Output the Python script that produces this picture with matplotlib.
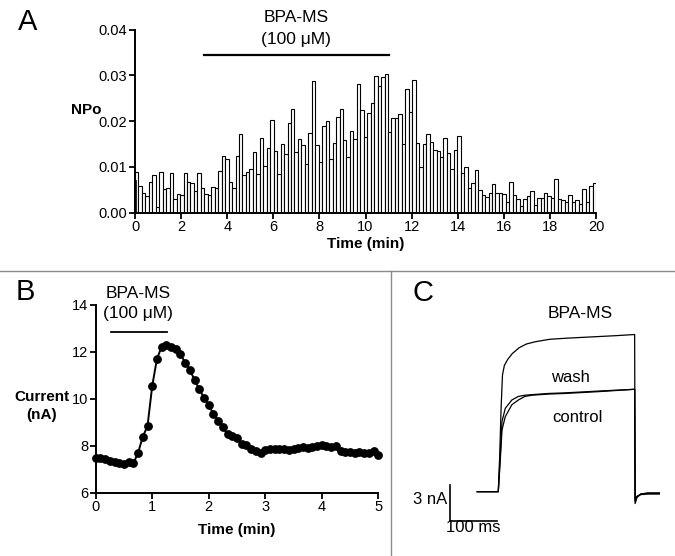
import matplotlib
matplotlib.use("Agg")
import matplotlib.pyplot as plt
import numpy as np
from matplotlib.lines import Line2D

plt.rcParams['font.family'] = ['Liberation Sans', 'DejaVu Sans']

# ---------------- Panel A data (NPo, ~9 s bins over 20 min) ----------------
npo_first = 0.0072  # filled bar at t = 0
npo_values = [
    0.0089, 0.0059, 0.0044, 0.0036, 0.0067, 0.0082, 0.0012, 0.0089, 0.0052, 0.0055, 0.0086, 0.0030, 0.0041,
    0.0038, 0.0087, 0.0067, 0.0064, 0.0048, 0.0086, 0.0053, 0.0041, 0.0038, 0.0057, 0.0053, 0.0092, 0.0125,
    0.0118, 0.0067, 0.0053, 0.0123, 0.0172, 0.0082, 0.0088, 0.0096, 0.0132, 0.0085, 0.0163, 0.0101, 0.0142,
    0.0202, 0.0135, 0.0085, 0.0150, 0.0128, 0.0197, 0.0227, 0.0132, 0.0162, 0.0147, 0.0106, 0.0174, 0.0287,
    0.0148,
    0.0110, 0.0190, 0.0200, 0.0117, 0.0153, 0.0209, 0.0227, 0.0158, 0.0122, 0.0178, 0.0162, 0.0282, 0.0224,
    0.0165, 0.0217, 0.0240, 0.0298, 0.0276, 0.0296, 0.0303, 0.0177, 0.0208, 0.0206, 0.0215, 0.0151, 0.0270,
    0.0220, 0.0290,
    0.0152, 0.0099, 0.0150, 0.0173, 0.0154, 0.0136, 0.0134, 0.0122, 0.0164, 0.0130, 0.0096, 0.0136, 0.0168,
    0.0087, 0.0100, 0.0053, 0.0064, 0.0093, 0.0050, 0.0039, 0.0034, 0.0044, 0.0063, 0.0044, 0.0042, 0.0040,
    0.0024,
    0.0068, 0.0038, 0.0031, 0.0014, 0.0031, 0.0036, 0.0048, 0.0017, 0.0033, 0.0033, 0.0044, 0.0037, 0.0032,
    0.0074, 0.0031, 0.0028, 0.0023, 0.0038, 0.0023, 0.0027, 0.0019, 0.0051, 0.0023, 0.0058, 0.0066,
]
a_duration = 20.0
a_xticks = list(range(0, 21, 2))
a_yticks = [0.00, 0.01, 0.02, 0.03, 0.04]
a_drug = (3.0, 11.0)

# ---------------- Panel B data (current, 5 s samples) ----------------
b_current = [
    7.46, 7.49, 7.43, 7.36, 7.31, 7.28, 7.21, 7.31, 7.25, 7.70, 8.39, 8.84, 10.55,
    11.70, 12.22, 12.28, 12.22, 12.12, 11.90, 11.54, 11.23, 10.80, 10.40, 10.05, 9.74,
    9.35, 9.07, 8.78, 8.49, 8.43, 8.32, 8.07, 8.03, 7.85, 7.79, 7.68, 7.82, 7.86, 7.86,
    7.87, 7.87, 7.82, 7.85, 7.92, 7.96, 7.92, 7.93, 7.97, 8.03, 8.00, 7.96, 7.99, 7.78,
    7.75, 7.72, 7.69, 7.72, 7.70, 7.70, 7.76, 7.60,
]
b_interval_min = 5.0 / 60.0
b_xticks = [0, 1, 2, 3, 4, 5]
b_yticks = [6, 8, 10, 12, 14]
b_drug = (0.27, 1.26)

# ---------------- Panel C data (current traces, ms / nA) ----------------
c_time_bpa = [-45, 0, 3, 6, 9, 13, 20, 30, 45, 60, 80, 110, 150, 200, 250, 292, 293, 297, 305, 320, 345]
c_bpa = [0, 0, 3.0, 7.0, 9.8, 10.6, 11.1, 11.6, 12.1, 12.4, 12.6, 12.8, 12.9, 13.0, 13.1, 13.2, -1.0, -0.5, -0.2, -0.1, -0.1]
c_time_ctl = [-45, 0, 3, 8, 15, 29, 43, 57, 72, 108, 143, 214, 292, 293, 297, 305, 320, 345]
c_control = [0, 0, 1.8, 5.2, 6.3, 7.3, 7.7, 8.0, 8.1, 8.2, 8.25, 8.4, 8.6, -0.7, -0.4, -0.25, -0.2, -0.2]
c_wash = [0, 0, 2.2, 5.9, 7.0, 7.7, 8.0, 8.1, 8.15, 8.25, 8.3, 8.45, 8.6, -0.8, -0.4, -0.2, -0.15, -0.15]

W, H = 675, 556
fig = plt.figure(figsize=(W / 100, H / 100), dpi=100)

TICK_FS = 10.5
LABEL_FS = 11
TEXT_FS = 12.5


def ax_rect(x0, y0, x1, y1):
    return [x0 / W, 1 - y1 / H, (x1 - x0) / W, (y1 - y0) / H]


def ftext(x, y, s, **kw):
    fig.text(x / W, 1 - y / H, s, **kw)


def style_axes(ax):
    for s in ['top', 'right']:
        ax.spines[s].set_visible(False)
    for s in ['left', 'bottom']:
        ax.spines[s].set_linewidth(1.4)
    ax.tick_params(direction='out', length=4, width=1.3, labelsize=TICK_FS, pad=1.5)


# ---------------- Panel A ----------------
axA = fig.add_axes(ax_rect(135, 29.7, 596, 212.7))
n = len(npo_values)
w = a_duration / n
centers = (np.arange(n) + 0.5) * w
axA.bar(centers, npo_values, width=w, color='white', edgecolor='black', linewidth=0.8)
axA.bar([0], [npo_first], width=0.12, color='black', edgecolor='black', linewidth=0.5, clip_on=False)
axA.set_xlim(0, a_duration)
axA.set_ylim(0, 0.04)
axA.set_xticks(a_xticks)
axA.set_yticks(a_yticks)
axA.set_yticklabels([f"{v:.2f}" for v in a_yticks])
style_axes(axA)
axA.plot(list(a_drug), [0.0345, 0.0345], color='black', lw=1.6, clip_on=False)
axA.text(sum(a_drug) / 2, 0.0427, 'BPA-MS', ha='center', va='center', fontsize=TEXT_FS, clip_on=False)
axA.text(sum(a_drug) / 2, 0.0378, '(100 μM)', ha='center', va='center', fontsize=TEXT_FS, clip_on=False)
ftext(86, 110, 'NPo', ha='center', va='center', fontsize=LABEL_FS, fontweight='bold')
ftext(366, 244, 'Time (min)', ha='center', va='center', fontsize=LABEL_FS, fontweight='bold')
ftext(28, 22, 'A', ha='center', va='center', fontsize=21)

# ---------------- Panel B ----------------
axB = fig.add_axes(ax_rect(95.7, 305, 378.3, 492.7))
tb = np.arange(len(b_current)) * b_interval_min
axB.plot(tb, b_current, color='black', lw=1.4, marker='o', markersize=5.3, clip_on=False)
axB.set_xlim(0, 5)
axB.set_ylim(6, 14)
axB.set_xticks(b_xticks)
axB.set_yticks(b_yticks)
style_axes(axB)
axB.plot(list(b_drug), [12.85, 12.85], color='black', lw=1.3, clip_on=False)
axB.text(0.75, 14.5, 'BPA-MS', ha='center', va='center', fontsize=TEXT_FS, clip_on=False)
axB.text(0.75, 13.65, '(100 μM)', ha='center', va='center', fontsize=TEXT_FS, clip_on=False)
ftext(42, 406, 'Current\n(nA)', ha='center', va='center', fontsize=LABEL_FS, fontweight='bold', linespacing=1.4)
ftext(237, 530, 'Time (min)', ha='center', va='center', fontsize=LABEL_FS, fontweight='bold')
ftext(25, 292, 'B', ha='center', va='center', fontsize=21)

# ---------------- Panel C ----------------
axC = fig.add_axes(ax_rect(440, 300, 670, 540))
axC.set_xlim(-124.8, 367.7)
axC.set_ylim(-4.06, 16.1)
axC.axis('off')
axC.plot(c_time_bpa, c_bpa, color='black', lw=0.9)
axC.plot(c_time_ctl, c_control, color='black', lw=0.9)
axC.plot(c_time_ctl, c_wash, color='black', lw=0.9)
# scale bars
axC.plot([-103.4, -103.4, -3.4], [0.56, -2.44, -2.44], color='black', lw=1.2)
ftext(447, 500, '3 nA', ha='right', va='center', fontsize=12)
ftext(473, 528, '100 ms', ha='center', va='center', fontsize=12)
ftext(580, 313, 'BPA-MS', ha='center', va='center', fontsize=12.5)
ftext(570, 378, 'wash', ha='center', va='center', fontsize=12)
ftext(577, 417, 'control', ha='center', va='center', fontsize=12)
ftext(423, 293, 'C', ha='center', va='center', fontsize=21)

# separators
fig.add_artist(Line2D([0, 1], [1 - 271 / H] * 2, color='#8a8a8a', lw=1))
fig.add_artist(Line2D([391 / W] * 2, [0, 1 - 271 / H], color='#8a8a8a', lw=1))

fig.savefig('out.png', dpi=100)
